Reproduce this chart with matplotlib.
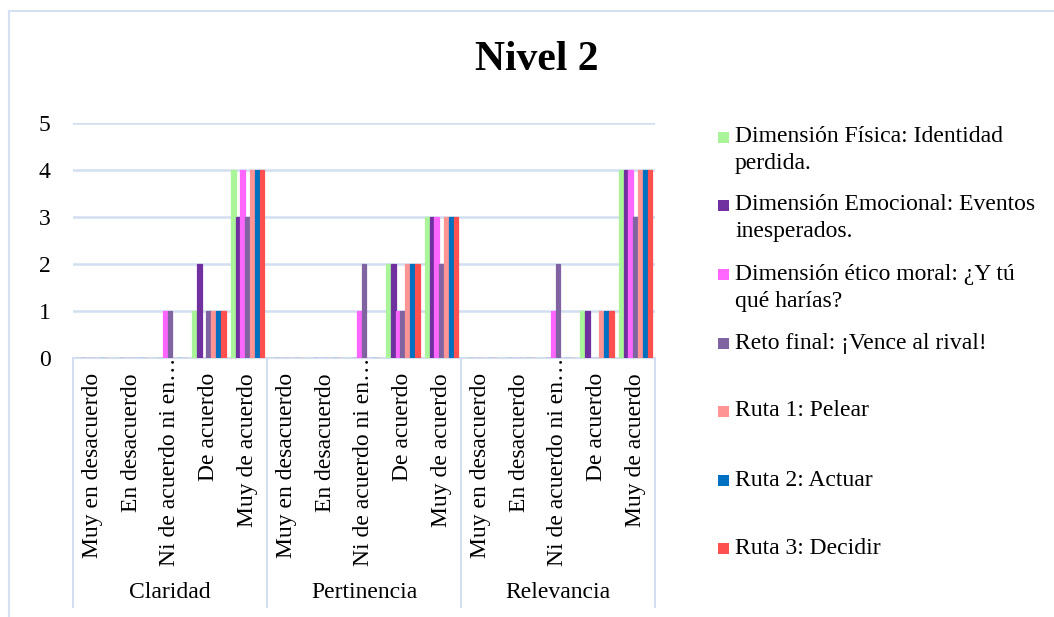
import textwrap
import numpy as np
import matplotlib
matplotlib.use("Agg")
import matplotlib.pyplot as plt
from matplotlib.patches import Rectangle
from matplotlib.lines import Line2D
from matplotlib.transforms import blended_transform_factory

# ---------------- data ----------------
groups = ["Claridad", "Pertinencia", "Relevancia"]
categories = ["Muy en desacuerdo", "En desacuerdo", "Ni de acuerdo ni en…",
              "De acuerdo", "Muy de acuerdo"]
series_names = [
    "Dimensión Física: Identidad perdida.",
    "Dimensión Emocional: Eventos inesperados.",
    "Dimensión ético moral: ¿Y tú qué harías?",
    "Reto final: ¡Vence al rival!",
    "Ruta 1: Pelear",
    "Ruta 2: Actuar",
    "Ruta 3: Decidir",
]
# values per series, ordered Claridad(5 cats), Pertinencia(5), Relevancia(5)
fisica    = [0, 0, 0, 1, 4,  0, 0, 0, 2, 3,  0, 0, 0, 1, 4]
emocional = [0, 0, 0, 2, 3,  0, 0, 0, 2, 3,  0, 0, 0, 1, 4]
etico     = [0, 0, 1, 0, 4,  0, 0, 1, 1, 3,  0, 0, 1, 0, 4]
reto      = [0, 0, 1, 1, 3,  0, 0, 2, 1, 2,  0, 0, 2, 0, 3]
ruta1     = [0, 0, 0, 1, 4,  0, 0, 0, 2, 3,  0, 0, 0, 1, 4]
ruta2     = [0, 0, 0, 1, 4,  0, 0, 0, 2, 3,  0, 0, 0, 1, 4]
ruta3     = [0, 0, 0, 1, 4,  0, 0, 0, 2, 3,  0, 0, 0, 1, 4]
series_values = [fisica, emocional, etico, reto, ruta1, ruta2, ruta3]
colors = ["#aaf59a", "#7030a0", "#ff66ff", "#8064a2", "#ff9494", "#0070c0", "#ff5050"]
yticks = [0, 1, 2, 3, 4, 5]
title = "Nivel 2"

# ---------------- figure ----------------
W, H = 1054, 617
FONT = "Liberation Serif"
fig = plt.figure(figsize=(W / 100, H / 100), dpi=100)

def fx(px):
    return px / W

def fy(py):
    return 1 - py / H

ax_left, ax_right, ax_top, ax_bottom = 73, 655, 123, 358
ax_h = ax_bottom - ax_top
ax = fig.add_axes([fx(ax_left), fy(ax_bottom), fx(ax_right - ax_left), ax_h / H])

n_cat = len(groups) * len(categories)
x = np.arange(n_cat)
n_s = len(series_values)
total_w = 0.87
bw = total_w / n_s
for i, (name, vals, c) in enumerate(zip(series_names, series_values, colors)):
    ax.bar(x - total_w / 2 + bw * (i + 0.5), vals, width=bw, color=c,
           edgecolor=c, linewidth=0.9, label=name, zorder=3)

ax.set_xlim(-0.5, n_cat - 0.5)
ax.set_ylim(0, 5)
ax.set_yticks(yticks)
ax.set_yticklabels([str(t) for t in yticks], fontfamily=FONT, fontsize=17)
ax.tick_params(axis="y", length=0, pad=16)
ax.yaxis.grid(True, color="#d3dff0", linewidth=1.8, zorder=0)
ax.set_axisbelow(True)
for s in ["top", "right", "left"]:
    ax.spines[s].set_visible(False)
ax.spines["bottom"].set_color("#d3dff0")
ax.spines["bottom"].set_linewidth(1.5)
ax.set_xticks([])

trans = blended_transform_factory(ax.transData, ax.transAxes)

# category labels (rotated, aligned to the axis like Excel)
for gi in range(len(groups)):
    for ci, cat in enumerate(categories):
        top_px = 357 if cat.endswith("…") else 373
        ax.text(gi * len(categories) + ci, -(top_px - ax_bottom) / ax_h, cat,
                transform=trans, rotation=90, ha="center", va="top",
                fontfamily=FONT, fontsize=17)

# multi-level category separators and group labels
low = -(607 - ax_bottom) / ax_h
ncat = len(categories)
for g in range(len(groups) + 1):
    xs = g * ncat - 0.5
    ax.add_line(Line2D([xs, xs], [0, low], transform=trans, color="#c9d9ee",
                       linewidth=1.2, clip_on=False))
grp_y = -(593 - ax_bottom) / ax_h
for g, name in enumerate(groups):
    ax.text(g * ncat + (ncat - 1) / 2, grp_y, name, transform=trans,
            ha="center", va="center", fontfamily=FONT, fontsize=17)

# title
fig.text(fx(537), fy(60), title, ha="center", va="center", fontfamily=FONT,
         fontsize=30, fontweight="bold")

# legend (manual, matching the wrapped Excel legend)
entry_y = [137, 205, 275, 343, 411, 480, 548]
for name, c, ey in zip(series_names, colors, entry_y):
    fig.patches.append(Rectangle((fx(718), fy(ey + 5.5)), fx(11), 11 / H,
                                 transform=fig.transFigure, facecolor=c,
                                 edgecolor="none"))
    for k, line in enumerate(textwrap.wrap(name, width=28)):
        fig.text(fx(735), fy(ey + 27 * k), line, ha="left", va="center",
                 fontfamily=FONT, fontsize=17)

# chart-area border (top and left visible)
fig.add_artist(Line2D([fx(9), fx(9)], [fy(11), 0], transform=fig.transFigure,
                      color="#d5e1f1", linewidth=1.5))
fig.add_artist(Line2D([fx(9), 1], [fy(11), fy(11)], transform=fig.transFigure,
                      color="#d5e1f1", linewidth=1.5))

fig.savefig("out.png", dpi=100)
